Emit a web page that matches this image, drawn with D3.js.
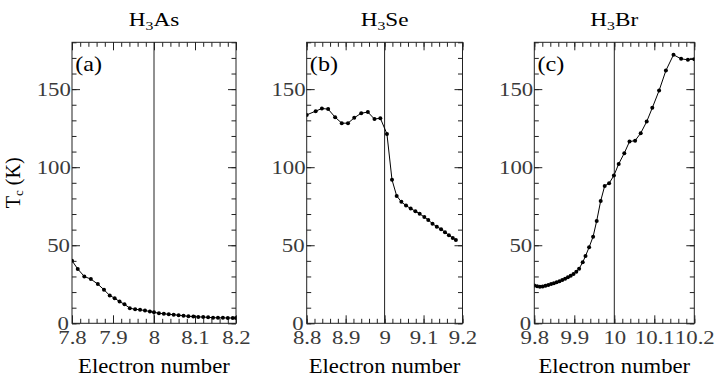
<!DOCTYPE html>
<html>
<head>
<meta charset="utf-8">
<script src="https://cdn.jsdelivr.net/npm/d3@7"></script>
<style>
  body { margin: 0; background: #fff; }
  text { font-family: "Liberation Serif", "Times New Roman", serif; }
</style>
</head>
<body>
<div id="chart"></div>
<script>
// compounds shown in the three panels
const elements = ["As", "Se", "Br"];
const letters = ["(a)", "(b)", "(c)"];
const xDomains = [[7.8, 8.2], [8.8, 9.2], [9.8, 10.2]];
const xMajor = [[7.8, 7.9, 8, 8.1, 8.2], [8.8, 8.9, 9, 9.1, 9.2], [9.8, 9.9, 10, 10.1, 10.2]];
const xTickLabels = [["7.8", "7.9", "8", "8.1", "8.2"], ["8.8", "8.9", "9", "9.1", "9.2"], ["9.8", "9.9", "10", "10.1", "10.2"]];
const dividers = [8, 9, 10];
const yTicks = [0, 50, 100, 150];
const yTickLabels = ["0", "50", "100", "150"];

// H3As
const asX = [7.8, 7.814, 7.830, 7.846, 7.863, 7.878, 7.892, 7.904, 7.916, 7.928, 7.941, 7.954, 7.966, 7.978, 7.990, 8.0,
  8.012, 8.024, 8.036, 8.048, 8.060, 8.072, 8.084, 8.096, 8.108, 8.120, 8.132, 8.144, 8.156, 8.168, 8.180, 8.192, 8.2];
const asTc = [40.1, 34.8, 30.0, 28.3, 25.1, 21.5, 17.8, 16.1, 13.9, 12.2, 9.7, 9.0, 8.6, 8.2, 7.5, 7.1,
  6.4, 6.1, 5.8, 5.5, 5.2, 4.8, 4.5, 4.3, 4.1, 4.0, 3.8, 3.6, 3.5, 3.5, 3.4, 3.4, 3.4];

// H3Se
const seX = [8.8, 8.823, 8.839, 8.855, 8.873, 8.890, 8.906, 8.922, 8.940, 8.957, 8.974, 8.989, 9.006, 9.019, 9.031,
  9.043, 9.055, 9.067, 9.079, 9.090, 9.102, 9.112, 9.123, 9.134, 9.145, 9.155, 9.165, 9.175, 9.183];
const seTc = [133.5, 135.9, 137.6, 137.2, 132.0, 128.2, 128.2, 131.6, 134.6, 135.3, 130.8, 131.4, 121.3, 91.9, 81.6,
  77.8, 75.4, 73.5, 71.8, 70.1, 68.1, 66.2, 63.8, 61.9, 60.3, 58.3, 56.4, 54.7, 53.4];

// H3Br
const brX = [9.8, 9.807, 9.814, 9.821, 9.828, 9.835, 9.842, 9.849, 9.856, 9.863, 9.870, 9.877, 9.884, 9.891, 9.898,
  9.905, 9.912, 9.921, 9.928, 9.937, 9.947, 9.956, 9.966, 9.976, 9.987, 9.999,
  10.011, 10.025, 10.038, 10.052, 10.066, 10.081, 10.095, 10.112, 10.129, 10.148, 10.167, 10.184, 10.2];
const brTc = [24.2, 23.8, 23.4, 23.5, 24.0, 24.6, 25.1, 25.7, 26.3, 27.0, 27.8, 28.6, 29.5, 30.5, 31.6,
  33.0, 35.0, 39.1, 43.1, 48.7, 55.5, 65.6, 78.4, 88.0, 89.7, 94.6,
  102.1, 109.0, 116.4, 117.0, 121.8, 129.2, 138.0, 149.1, 161.9, 172.0, 169.4, 168.8, 169.2];

const seriesX = [asX, seX, brX];
const seriesY = [asTc, seTc, brTc];

var width = 716, height = 381;
var plotTop = 42.3, plotBottom = 323.3;
var panels = [{left: 72, right: 236}, {left: 306.7, right: 462.5}, {left: 534.3, right: 694.3}];
var ink = "#222";
var serif = "'Liberation Serif', 'Times New Roman', serif";

var svg = d3.select("#chart").append("svg")
  .attr("width", width)
  .attr("height", height)
  .style("font-family", serif);

var y = d3.scaleLinear().domain([0, 180]).range([plotBottom, plotTop]);

function stretch(sel, k)
{
  sel.style("transform-box", "fill-box")
    .style("transform-origin", "center")
    .style("transform", "scaleX(" + k + ")");
}

panels.forEach(function(p, i) {
  var x = d3.scaleLinear().domain(xDomains[i]).range([p.left, p.right]);
  var g = svg.append("g");

  g.append("clipPath").attr("id", "clip" + i)
    .append("rect")
    .attr("x", p.left).attr("y", plotTop)
    .attr("width", p.right - p.left).attr("height", plotBottom - plotTop);

  var minorX = d3.range(0, 21).map(function(k) { return xDomains[i][0] + k * 0.02; });
  var minorY = d3.range(0, 19).map(function(k) { return k * 10; });

  // minor ticks, all four sides, pointing inward
  g.append("g").attr("transform", "translate(0," + plotBottom + ")")
    .call(d3.axisBottom(x).tickValues(minorX).tickSize(-4.5).tickFormat(""));
  g.append("g").attr("transform", "translate(0," + plotTop + ")")
    .call(d3.axisTop(x).tickValues(minorX).tickSize(-4.5).tickFormat(""));
  g.append("g").attr("transform", "translate(" + p.left + ",0)")
    .call(d3.axisLeft(y).tickValues(minorY).tickSize(-4.5).tickFormat(""));
  g.append("g").attr("transform", "translate(" + p.right + ",0)")
    .call(d3.axisRight(y).tickValues(minorY).tickSize(-4.5).tickFormat(""));

  // major ticks with labels
  var xAxis = g.append("g").attr("transform", "translate(0," + plotBottom + ")")
    .call(d3.axisBottom(x).tickValues(xMajor[i]).tickSize(-8).tickPadding(7)
      .tickFormat(function(d, j) { return xTickLabels[i][j]; }));
  g.append("g").attr("transform", "translate(0," + plotTop + ")")
    .call(d3.axisTop(x).tickValues(xMajor[i]).tickSize(-8).tickFormat(""));
  var yAxis = g.append("g").attr("transform", "translate(" + p.left + ",0)")
    .call(d3.axisLeft(y).tickValues(yTicks).tickSize(-8).tickPadding(4)
      .tickFormat(function(d, j) { return yTickLabels[j]; }));
  g.append("g").attr("transform", "translate(" + p.right + ",0)")
    .call(d3.axisRight(y).tickValues(yTicks).tickSize(-8).tickFormat(""));

  g.selectAll(".domain").remove();
  g.selectAll("g").attr("font-family", null);
  g.selectAll(".tick line").attr("stroke", ink).attr("stroke-width", 1);

  xAxis.selectAll("text").attr("font-size", 19).attr("fill", "#3a3a3a");
  stretch(xAxis.selectAll("text"), 1.2);
  yAxis.selectAll("text").attr("font-size", 19).attr("fill", "#3a3a3a");
  stretch(yAxis.selectAll("text"), 1.2);

  // frame
  g.append("rect")
    .attr("x", p.left).attr("y", plotTop)
    .attr("width", p.right - p.left).attr("height", plotBottom - plotTop)
    .attr("fill", "none").attr("stroke", ink).attr("stroke-width", 1);

  // vertical marker at the integer electron count
  g.append("line")
    .attr("x1", x(dividers[i])).attr("x2", x(dividers[i]))
    .attr("y1", plotTop).attr("y2", plotBottom)
    .attr("stroke", ink).attr("stroke-width", 1);

  var pts = seriesX[i].map(function(d, j) { return [d, seriesY[i][j]]; });

  var line = d3.line()
    .x(function(d) { return x(d[0]); })
    .y(function(d) { return y(d[1]); });

  var plot = g.append("g").attr("clip-path", "url(#clip" + i + ")");
  plot.append("path")
    .datum(pts)
    .attr("d", line)
    .attr("fill", "none")
    .attr("stroke", "#000")
    .attr("stroke-width", 1);

  plot.selectAll("circle")
    .data(pts)
    .enter()
    .append("circle")
    .attr("cx", function(d) { return x(d[0]); })
    .attr("cy", function(d) { return y(d[1]); })
    .attr("r", 2)
    .attr("fill", "#000");

  // panel letter
  var lt = g.append("text")
    .attr("x", p.left + 5)
    .attr("y", 71)
    .attr("font-size", 21)
    .attr("fill", "#000")
    .text(letters[i]);
  stretch(lt, 1.15);

  // title H3X
  var title = g.append("text")
    .attr("x", (p.left + p.right) / 2)
    .attr("y", 26)
    .attr("text-anchor", "middle")
    .attr("font-size", 19)
    .attr("fill", "#000");
  title.append("tspan").text("H");
  title.append("tspan").attr("font-size", 13).attr("dy", 4).text("3");
  title.append("tspan").attr("dy", -4).text(elements[i]);
  stretch(title, 1.22);

  // x label
  var xl = g.append("text")
    .attr("x", (p.left + p.right) / 2)
    .attr("y", 373)
    .attr("text-anchor", "middle")
    .attr("font-size", 21)
    .attr("fill", "#000")
    .text("Electron number");
  stretch(xl, 1.08);
});

// y label
var yl = svg.append("text")
  .attr("transform", "translate(20," + ((plotTop + plotBottom) / 2) + ") rotate(-90)")
  .attr("text-anchor", "middle")
  .attr("font-size", 20)
  .attr("fill", "#000");
yl.append("tspan").text("T");
yl.append("tspan").attr("font-size", 13).attr("dy", 3).text("c");
yl.append("tspan").attr("dy", -3).text(" (K)");
</script>
</body>
</html>
